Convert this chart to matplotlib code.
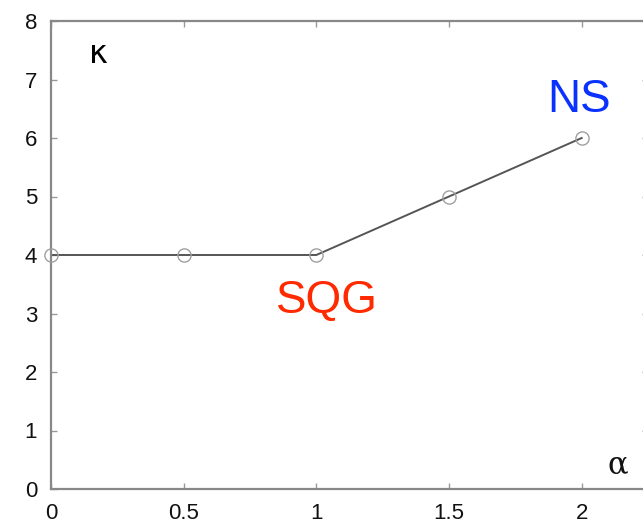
import numpy as np
import matplotlib.pyplot as plt

alpha = [0, 0.5, 1, 1.5, 2]
kappa = [4, 4, 4, 5, 6]
xticks = [0, 0.5, 1, 1.5, 2]
xtick_labels = ['0', '0.5', '1', '1.5', '2']
yticks = list(range(0, 9))

plt.rcParams['font.family'] = ['Liberation Sans', 'DejaVu Sans']

fig = plt.figure(figsize=(6.43, 5.27), dpi=100)
ax = fig.add_axes([51 / 643, 38 / 527, 597 / 643, 468 / 527])

ax.plot(alpha, kappa, '-', color='#555555', lw=1.4, zorder=2)
ax.plot(alpha, kappa, 'o', mfc='none', mec='#a0a0a0', mew=1.0, ms=9.5,
        zorder=3, clip_on=False)

ax.set_xlim(0, 2.25)
ax.set_ylim(0, 8)
ax.set_xticks(xticks)
ax.set_xticklabels(xtick_labels)
ax.set_yticks(yticks)

for s in ax.spines.values():
    s.set_color('#888888')
    s.set_linewidth(1.6)

ax.tick_params(direction='in', length=4, width=1, color='#999999',
               top=True, right=True, labelsize=16, labelcolor='#111111')
ax.tick_params(axis='x', pad=10)
ax.tick_params(axis='y', pad=10)

ax.text(0.18, 7.28, 'κ', fontsize=23, family='DejaVu Sans',
        ha='center', va='baseline', color='#000000')
ax.text(2.135, 0.27, 'α', fontsize=22, family='DejaVu Serif', ha='center',
        va='baseline', color='#111111')
ax.text(1.99, 6.44, 'NS', fontsize=33, color='#0a32ff', ha='center',
        va='baseline')
ax.text(1.04, 3.01, 'SQG', fontsize=33, color='#ff2a00', ha='center',
        va='baseline')

fig.savefig('out.png', dpi=100)
